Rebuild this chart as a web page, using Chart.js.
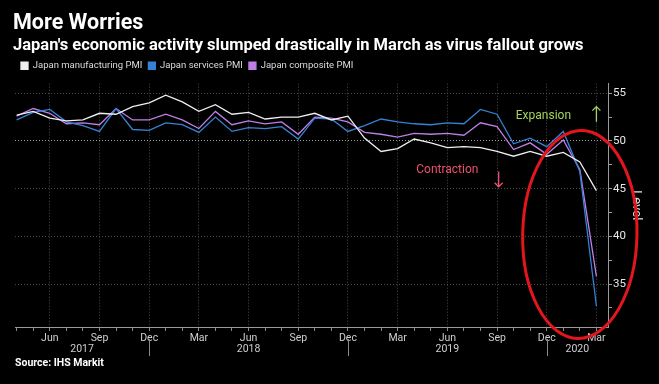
<!DOCTYPE html>
<html>
<head>
<meta charset="utf-8">
<script src="https://cdn.jsdelivr.net/npm/chart.js@4/dist/chart.umd.min.js"></script>
<style>
  html, body { margin: 0; padding: 0; background: #000; }
  #wrap { position: relative; width: 659px; height: 384px; background: #000; overflow: hidden; }
  #wrap canvas { position: absolute; left: 0; top: 0; }
  .hd { position: absolute; left: 13px; color: #fff; font-family: Roboto, "Open Sans", sans-serif; font-weight: bold; white-space: nowrap; }
  #title { top: 9px; font-size: 21.5px; }
  #subtitle { top: 35px; font-size: 16.5px; }
  #source { top: 356px; left: 15px; font-size: 10.5px; }
</style>
</head>
<body>
<div id="wrap">
  <canvas id="pmi" width="659" height="384"></canvas>
  <div class="hd" id="title">More Worries</div>
  <div class="hd" id="subtitle">Japan's economic activity slumped drastically in March as virus fallout grows</div>
  <div class="hd" id="source">Source: IHS Markit</div>
</div>
<script>
// monthly readings, Apr 2017 .. Mar 2020
const months = [
  '2017-04', '2017-05', '2017-06', '2017-07', '2017-08', '2017-09', '2017-10', '2017-11', '2017-12',
  '2018-01', '2018-02', '2018-03', '2018-04', '2018-05', '2018-06', '2018-07', '2018-08', '2018-09', '2018-10', '2018-11', '2018-12',
  '2019-01', '2019-02', '2019-03', '2019-04', '2019-05', '2019-06', '2019-07', '2019-08', '2019-09', '2019-10', '2019-11', '2019-12',
  '2020-01', '2020-02', '2020-03'
];
const manufacturing = [
  52.7, 53.1, 52.4, 52.1, 52.2, 52.9, 52.8, 53.6, 54.0,
  54.8, 54.1, 53.1, 53.8, 52.8, 53.0, 52.3, 52.5, 52.5, 52.9, 52.2, 52.6,
  50.3, 48.9, 49.2, 50.2, 49.8, 49.3, 49.4, 49.3, 48.9, 48.4, 48.9, 48.4,
  48.8, 47.8, 44.8
];
const services = [
  52.2, 53.0, 53.3, 52.0, 51.6, 51.0, 53.4, 51.2, 51.1,
  51.9, 51.7, 50.9, 52.5, 51.0, 51.4, 51.3, 51.5, 50.2, 52.4, 52.3, 51.0,
  51.6, 52.3, 52.0, 51.8, 51.7, 51.9, 51.8, 53.3, 52.8, 49.7, 50.3, 49.4,
  51.0, 46.8, 32.7
];
const composite = [
  52.6, 53.4, 52.9, 51.8, 51.9, 51.7, 53.4, 52.2, 52.2,
  52.8, 52.2, 51.3, 53.1, 51.7, 52.1, 51.8, 52.0, 50.7, 52.5, 52.4, 52.0,
  50.9, 50.7, 50.4, 50.8, 50.7, 50.8, 50.6, 51.9, 51.5, 49.1, 49.8, 48.6,
  50.1, 47.0, 35.8
];
const monthNames = ['Jan', 'Feb', 'Mar', 'Apr', 'May', 'Jun', 'Jul', 'Aug', 'Sep', 'Oct', 'Nov', 'Dec'];
const labelledMonths = ['Mar', 'Jun', 'Sep', 'Dec'];
const years = ['2017', '2018', '2019', '2020'];
const yTicks = [32.5, 35, 37.5, 40, 42.5, 45, 47.5, 50, 52.5, 55];

const FONT = 'Roboto, "Open Sans", sans-serif';
const monthName = i => monthNames[parseInt(months[i].slice(5), 10) - 1];
const isLabelled = i => labelledMonths.includes(monthName(i));
const points = arr => arr.map((v, i) => ({x: i, y: v}));

// year row under the month labels, split at each December
const yearRow = {
  id: 'yearRow',
  afterDraw(chart) {
    const {ctx, scales: {x}} = chart;
    const cuts = months.map((m, i) => i).filter(i => monthName(i) === 'Dec');
    const bounds = [x.min, ...cuts, x.max];
    ctx.save();
    ctx.strokeStyle = '#8a8a8a';
    ctx.lineWidth = 1;
    cuts.forEach(i => {
      const px = Math.round(x.getPixelForValue(i)) + 0.5;
      ctx.beginPath();
      ctx.moveTo(px, x.top + 12);
      ctx.lineTo(px, x.top + 29);
      ctx.stroke();
    });
    ctx.fillStyle = '#cfcfcf';
    ctx.font = '10.5px ' + FONT;
    ctx.textAlign = 'center';
    ctx.textBaseline = 'middle';
    years.forEach((yr, k) => {
      const mid = (bounds[k] + bounds[k + 1]) / 2;
      ctx.fillText(yr, x.getPixelForValue(mid), x.top + 22);
    });
    ctx.restore();
  }
};

// expansion / contraction notes and the red ring
const notes = {
  id: 'notes',
  afterDraw(chart) {
    const {ctx, scales: {x, y}} = chart;
    ctx.save();
    ctx.font = '12px ' + FONT;
    ctx.textAlign = 'center';
    ctx.textBaseline = 'middle';
    [
      {text: 'Expansion', at: 31.8, val: 52.6, color: '#a6d45c'},
      {text: 'Contraction', at: 26, val: 47.0, color: '#ee4f6d'}
    ].forEach(n => {
      ctx.fillStyle = n.color;
      ctx.fillText(n.text, x.getPixelForValue(n.at), y.getPixelForValue(n.val));
    });
    [
      {at: 35, from: 52.0, to: 53.6, color: '#a6d45c'},
      {at: 29.1, from: 46.8, to: 45.2, color: '#ee4f6d'}
    ].forEach(a => {
      const px = x.getPixelForValue(a.at);
      const y0 = y.getPixelForValue(a.from);
      const y1 = y.getPixelForValue(a.to);
      const d = y1 < y0 ? 4 : -4;
      ctx.strokeStyle = a.color;
      ctx.lineWidth = 1.3;
      ctx.beginPath();
      ctx.moveTo(px, y0);
      ctx.lineTo(px, y1);
      ctx.moveTo(px - 4, y1 + d);
      ctx.lineTo(px, y1);
      ctx.lineTo(px + 4, y1 + d);
      ctx.stroke();
    });
    // ring around the March collapse
    const cx = x.getPixelForValue(34.0);
    const cy = y.getPixelForValue(40.2);
    const rx = x.getPixelForValue(34.0 + 3.45) - cx;
    const ry = cy - y.getPixelForValue(40.2 + 10.9);
    ctx.strokeStyle = '#e3161d';
    ctx.lineWidth = 3;
    ctx.beginPath();
    ctx.ellipse(cx, cy, rx, ry, 0.02, 0, Math.PI * 2);
    ctx.stroke();
    ctx.restore();
  }
};

const ctx = document.getElementById('pmi');
const chart = new Chart(ctx, {
  type: 'line',
  data: {
    datasets: [
      {
        label: 'Japan manufacturing PMI',
        data: points(manufacturing),
        borderColor: '#efefef',
        backgroundColor: '#efefef',
        borderWidth: 1.3,
        pointRadius: 0,
      },
      {
        label: 'Japan services PMI',
        data: points(services),
        borderColor: '#3582d6',
        backgroundColor: '#3582d6',
        borderWidth: 1.3,
        pointRadius: 0,
      },
      {
        label: 'Japan composite PMI',
        data: points(composite),
        borderColor: '#bf7fe6',
        backgroundColor: '#bf7fe6',
        borderWidth: 1.3,
        pointRadius: 0,
      }
    ]
  },
  options: {
    responsive: false,
    animation: false,
    layout: {padding: {top: 55, left: 15, right: 0, bottom: 37}},
    scales: {
      x: {
        type: 'linear',
        min: -0.1,
        max: 35.7,
        afterBuildTicks: scale => { scale.ticks = months.map((m, i) => ({value: i})); },
        afterFit: scale => { scale.height = 20; },
        ticks: {
          autoSkip: false,
          maxRotation: 0,
          padding: 1,
          color: '#cfcfcf',
          font: {family: FONT, size: 10.5},
          callback: value => (isLabelled(value) ? monthName(value) : ''),
        },
        grid: {
          color: c => (c.tick && isLabelled(c.tick.value) ? '#4a4a4a' : 'rgba(0,0,0,0)'),
          tickColor: '#8a8a8a',
          tickLength: 4,
        },
        border: {display: true, color: '#9a9a9a', dash: [1, 2]},
      },
      y: {
        position: 'right',
        min: 30.5,
        max: 56,
        afterBuildTicks: scale => { scale.ticks = yTicks.map(v => ({value: v})); },
        afterFit: scale => { scale.width = 51; },
        ticks: {
          padding: 1,
          color: '#e8e8e8',
          font: {family: FONT, size: 11.5},
          callback: value => (value % 5 === 0 ? value : ''),
        },
        grid: {
          color: c => {
            if (!c.tick) return 'rgba(0,0,0,0)';
            if (c.tick.value === 50) return '#a0a0a0';
            return c.tick.value % 5 === 0 ? '#4a4a4a' : 'rgba(0,0,0,0)';
          },
          tickColor: '#9a9a9a',
          tickLength: 4,
        },
        border: {display: true, color: '#9a9a9a', dash: [1, 2]},
        title: {
          display: true,
          text: 'Level',
          color: '#e0e0e0',
          font: {family: FONT, size: 13},
          padding: {top: 15, bottom: 0},
        },
      },
    },
    plugins: {
      legend: {
        position: 'top',
        align: 'start',
        labels: {
          color: '#dcdcdc',
          font: {family: FONT, size: 9.5},
          boxWidth: 7,
          boxHeight: 7,
          padding: 6,
        },
      },
      // empty spacer between the legend and the plot
      title: {
        display: true,
        text: '',
        weight: 500,
        font: {size: 1},
        padding: {top: 0, bottom: 2},
      },
      tooltip: {enabled: false},
    },
  },
  plugins: [yearRow, notes],
});
</script>
</body>
</html>
